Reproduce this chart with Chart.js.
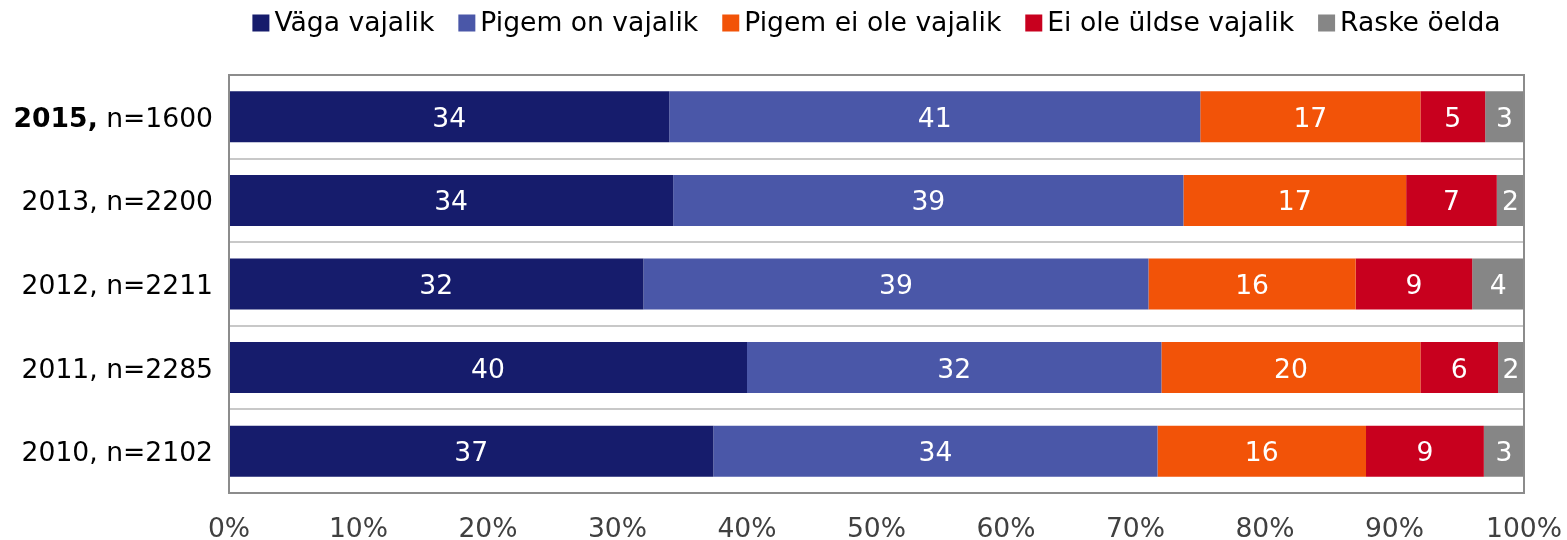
<!DOCTYPE html>
<html>
<head>
<meta charset="utf-8">
<script src="https://cdn.jsdelivr.net/npm/chart.js@4/dist/chart.umd.min.js"></script>
<style>
  html, body { margin: 0; padding: 0; background: #fff; }
</style>
</head>
<body>
<canvas id="myChart" width="1567" height="540"></canvas>
<script>
// survey years and sample sizes (rows, top to bottom)
var years = ['2015', '2013', '2012', '2011', '2010'];
var sampleSizes = [1600, 2200, 2211, 2285, 2102];

// answer shares in %, per row
var vagaVajalik    = [34.0, 34.3, 32.0, 40.0, 37.4];
var pigemOnVajalik = [41.0, 39.4, 39.0, 32.0, 34.3];
var pigemEiOle     = [17.0, 17.2, 16.0, 20.0, 16.1];
var eiOleUldse     = [5.0, 7.0, 9.0, 6.0, 9.1];
var raskeOelda     = [3.0, 2.1, 4.0, 2.0, 3.1];

var seriesNames = ['Väga vajalik', 'Pigem on vajalik', 'Pigem ei ole vajalik', 'Ei ole üldse vajalik', 'Raske öelda'];
var seriesColors = ['#161C6C', '#4A57A8', '#F25308', '#C8001E', '#868686'];

var xTicks = [0, 10, 20, 30, 40, 50, 60, 70, 80, 90, 100];

var FONT = '"DejaVu Sans", Verdana, sans-serif';
var FS = 26.6;

var labels = years.map(function(y, i){ return y + ', n=' + sampleSizes[i]; });
var seriesData = [vagaVajalik, pigemOnVajalik, pigemEiOle, eiOleUldse, raskeOelda];

var datasets = seriesData.map(function(d, i){
	return {
		label: seriesNames[i],
		data: d,
		backgroundColor: seriesColors[i],
		borderWidth: 0,
		barPercentage: 0.61,
		categoryPercentage: 1
	};
});

// values inside the bars
var barLabels = {
	id: 'barLabels',
	afterDatasetsDraw: function(chart){
		var ctx = chart.ctx;
		ctx.save();
		ctx.font = FS + 'px ' + FONT;
		ctx.fillStyle = '#fff';
		ctx.textAlign = 'center';
		ctx.textBaseline = 'middle';
		chart.data.datasets.forEach(function(ds, i){
			var meta = chart.getDatasetMeta(i);
			meta.data.forEach(function(bar, j){
				var v = Math.round(ds.data[j]);
				ctx.fillText(v, (bar.x + bar.base) / 2, bar.y + 3);
			});
		});
		ctx.restore();
	}
};

// frame, row labels (first year bold) and legend
var extras = {
	id: 'extras',
	afterDraw: function(chart){
		var ctx = chart.ctx;
		var a = chart.chartArea;
		ctx.save();
		ctx.strokeStyle = '#8c8c8c';
		ctx.lineWidth = 2;
		ctx.strokeRect(a.left, a.top, a.right - a.left, a.bottom - a.top);

		// row labels
		var yScale = chart.scales.y;
		ctx.textBaseline = 'middle';
		ctx.fillStyle = '#000';
		labels.forEach(function(l, i){
			var y = yScale.getPixelForValue(i) + 3;
			var right = a.left - 16;
			var rest = ' n=' + sampleSizes[i];
			ctx.font = FS + 'px ' + FONT;
			var rw = ctx.measureText(rest).width;
			ctx.textAlign = 'right';
			ctx.fillText(rest, right, y);
			ctx.font = (i === 0 ? 'bold ' : '') + FS + 'px ' + FONT;
			ctx.fillText(years[i] + ',', right - rw, y);
		});

		// legend
		ctx.font = FS + 'px ' + FONT;
		var box = 17, gap = 5, spacing = 24;
		var widths = seriesNames.map(function(n){ return box + gap + ctx.measureText(n).width; });
		var total = widths.reduce(function(s, w){ return s + w; }, 0) + spacing * (widths.length - 1);
		var x = (a.left + a.right) / 2 - total / 2;
		var ly = 23;
		ctx.textAlign = 'left';
		seriesNames.forEach(function(n, i){
			ctx.fillStyle = seriesColors[i];
			ctx.fillRect(x, ly - box / 2, box, box);
			ctx.fillStyle = '#000';
			ctx.fillText(n, x + box + gap, ly + 1);
			x += widths[i] + spacing;
		});
		ctx.restore();
	}
};

var ctx = document.getElementById('myChart').getContext('2d');
var chart = new Chart(ctx, {
	type: 'bar',
	data: {
		labels: labels,
		datasets: datasets
	},
	plugins: [barLabels, extras],
	options: {
		indexAxis: 'y',
		responsive: false,
		animation: false,
		layout: { padding: { top: 75, right: 43, left: 0, bottom: 0 } },
		plugins: {
			legend: { display: false },
			tooltip: { enabled: false }
		},
		scales: {
			x: {
				stacked: true,
				min: 0,
				max: 100,
				afterBuildTicks: function(scale){
					scale.ticks = xTicks.map(function(v){ return { value: v }; });
				},
				afterFit: function(scale){
					scale.height = 47;
					scale.paddingLeft = 0;
					scale.paddingRight = 0;
				},
				grid: { display: false, drawTicks: false },
				border: { display: false },
				ticks: {
					padding: 21,
					color: '#404040',
					font: { family: FONT, size: FS },
					maxRotation: 0,
					callback: function(v){ return v + '%'; }
				}
			},
			y: {
				stacked: true,
				afterFit: function(scale){ scale.width = 229; },
				grid: { offset: true, color: '#c8c8c8', lineWidth: 2, drawTicks: false },
				border: { display: false },
				ticks: { display: false }
			}
		}
	}
});
</script>
</body>
</html>
